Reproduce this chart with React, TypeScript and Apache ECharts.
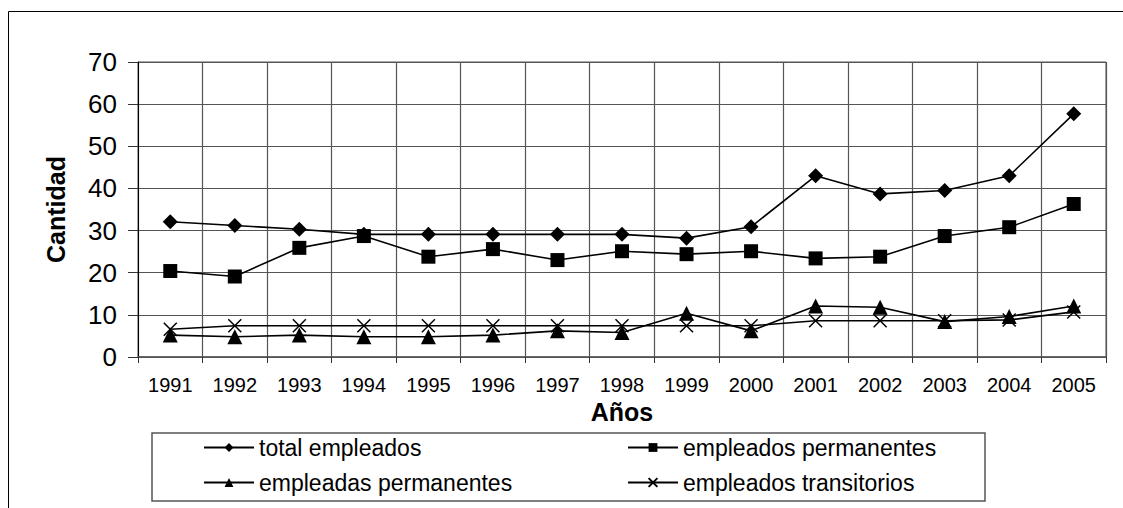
import React, { useEffect, useRef } from "react";
import * as echarts from "echarts";

const years = ["1991", "1992", "1993", "1994", "1995", "1996", "1997", "1998", "1999", "2000", "2001", "2002", "2003", "2004", "2005"];
const totalEmpleados = [32.1, 31.2, 30.3, 29.1, 29.1, 29.1, 29.1, 29.1, 28.2, 30.9, 43.0, 38.7, 39.5, 43.0, 57.7];
const empleadosPermanentes = [20.4, 19.1, 25.9, 28.7, 23.8, 25.6, 23.0, 25.1, 24.4, 25.1, 23.4, 23.8, 28.7, 30.8, 36.3];
const empleadasPermanentes = [5.2, 4.8, 5.2, 4.8, 4.8, 5.2, 6.2, 5.8, 10.4, 6.2, 12.1, 11.8, 8.4, 9.6, 12.1];
const empleadosTransitorios = [6.6, 7.4, 7.4, 7.4, 7.4, 7.4, 7.4, 7.4, 7.4, 7.4, 8.6, 8.6, 8.6, 8.8, 10.7];
const seriesNames = ["total empleados", "empleados permanentes", "empleadas permanentes", "empleados transitorios"];

const FONT = "'Liberation Sans', Arial, sans-serif";
const X_SYMBOL = "path://M0,0L10,10M10,0L0,10";

export default function App() {
  const ref = useRef<HTMLDivElement>(null);
  useEffect(() => {
    if (!ref.current) return;
    const chart = echarts.init(ref.current, undefined, { renderer: "svg" });
    const lineStyle = { color: "#000", width: 1.6 };
    const mk = (name: string, data: number[], symbol: string, size: number | number[], extra: any = {}) => ({
      name,
      type: "line",
      data,
      symbol,
      symbolSize: size,
      lineStyle,
      itemStyle: { color: "#000", borderWidth: 0, ...extra },
      emphasis: { disabled: true },
    });
    const legendBase = {
      orient: "horizontal",
      padding: 0,
      itemWidth: 50,
      itemHeight: 11,
      itemGap: 0,
      selectedMode: false,
      textStyle: { fontFamily: FONT, fontSize: 23, color: "#000", lineHeight: 22 },
    };
    chart.setOption({
      animation: false,
      textStyle: { fontFamily: FONT },
      grid: {
        left: 138,
        right: 17,
        top: 62,
        bottom: 151,
        show: true,
        borderColor: "#555",
        borderWidth: 1,
      },
      xAxis: {
        type: "category",
        data: years,
        boundaryGap: true,
        name: "Años",
        nameLocation: "middle",
        nameGap: 42,
        nameTextStyle: { fontFamily: FONT, fontSize: 25, fontWeight: "bold", color: "#000" },
        axisLine: { show: true, lineStyle: { color: "#555", width: 1.5 } },
        axisTick: { show: true, alignWithLabel: false, length: 6, lineStyle: { color: "#333", width: 1 } },
        axisLabel: { fontFamily: FONT, fontSize: 20, color: "#000", margin: 18 },
        splitLine: { show: true, lineStyle: { color: "#555", width: 1.2 } },
      },
      yAxis: {
        type: "value",
        min: 0,
        max: 70,
        interval: 10,
        name: "Cantidad",
        nameLocation: "middle",
        nameRotate: 90,
        nameGap: 70,
        nameTextStyle: { fontFamily: FONT, fontSize: 25, fontWeight: "bold", color: "#000" },
        axisLine: { show: true, lineStyle: { color: "#000", width: 1 } },
        axisTick: { show: true, length: 10, lineStyle: { color: "#333", width: 1 } },
        axisLabel: { fontFamily: FONT, fontSize: 26, color: "#000", margin: 21 },
        splitLine: { show: true, lineStyle: { color: "#555", width: 1.2 } },
      },
      legend: [
        { ...legendBase, data: [seriesNames[0]], left: 203, top: 436 },
        { ...legendBase, data: [seriesNames[1]], left: 627, top: 436 },
        { ...legendBase, data: [seriesNames[2]], left: 203, top: 471 },
        { ...legendBase, data: [seriesNames[3]], left: 627, top: 471 },
      ],
      graphic: [
        {
          type: "rect",
          shape: { x: 8.5, y: 11.5, width: 1300, height: 700 },
          style: { fill: "none", stroke: "#000", lineWidth: 1 },
          silent: true,
          z: -10,
        },
        {
          type: "rect",
          shape: { x: 152, y: 433, width: 833, height: 68 },
          style: { fill: "none", stroke: "#555", lineWidth: 1.5 },
          silent: true,
          z: -5,
        },
      ],
      series: [
        mk(seriesNames[0], totalEmpleados, "diamond", 15),
        mk(seriesNames[1], empleadosPermanentes, "rect", 14),
        mk(seriesNames[2], empleadasPermanentes, "triangle", 15),
        mk(seriesNames[3], empleadosTransitorios, X_SYMBOL, 13, { borderColor: "#000", borderWidth: 1.5 }),
      ],
    });
    return () => chart.dispose();
  }, []);
  return (
    <div
      ref={ref}
      style={{ position: "absolute", left: 0, top: 0, width: 1123, height: 508, background: "#fff" }}
    />
  );
}
